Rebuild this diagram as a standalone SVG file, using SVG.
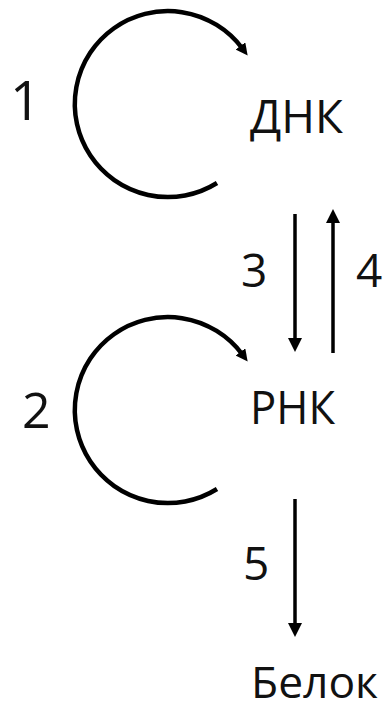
<svg xmlns="http://www.w3.org/2000/svg" width="388" height="711" viewBox="0 0 388 711">
<style>
.lbl{font-family:"Open Sans","Liberation Sans",sans-serif;fill:#111;}
.arc{fill:none;stroke:#000;stroke-width:4.5;}
.ln{fill:none;stroke:#000;stroke-width:3.5;}
</style>
<defs>
<marker id="ah" markerUnits="userSpaceOnUse" viewBox="0 0 14 14" refX="3" refY="7" markerWidth="14" markerHeight="14" orient="auto">
<path d="M0,0 L14,7 L0,14 Z" fill="#000"/>
</marker>
<marker id="ahs" markerUnits="userSpaceOnUse" viewBox="0 0 14 14" refX="3" refY="7" markerWidth="12" markerHeight="12" orient="auto">
<path d="M0,0 L14,7 L0,14 Z" fill="#000"/>
</marker>
</defs>
<rect width="388" height="711" fill="#fff"/>
<g id="connectors">
<path class="arc" d="M217,183 A93,93 0 1 1 242,48" marker-end="url(#ahs)"/>
<path class="arc" d="M217,489 A93,93 0 1 1 242,354" marker-end="url(#ahs)"/>
<line class="ln" x1="295" y1="214" x2="295" y2="341" marker-end="url(#ah)"/>
<line class="ln" x1="333" y1="353" x2="333" y2="220" marker-end="url(#ah)"/>
<line class="ln" x1="295" y1="499" x2="295" y2="626" marker-end="url(#ah)"/>
</g>
<g id="dna"><text class="lbl" x="250" y="133" font-size="46" textLength="93" lengthAdjust="spacingAndGlyphs">ДНК</text></g>
<g id="rna"><text class="lbl" x="250" y="424" font-size="46" textLength="85" lengthAdjust="spacingAndGlyphs">РНК</text></g>
<g id="protein"><text class="lbl" x="251" y="698" font-size="44" textLength="127" lengthAdjust="spacingAndGlyphs">Белок</text></g>
<g id="labels">
<text class="lbl" x="10" y="120" font-size="54">1</text>
<text class="lbl" x="22" y="428" font-size="50">2</text>
<text class="lbl" x="241" y="287" font-size="46">3</text>
<text class="lbl" x="356" y="287" font-size="46">4</text>
<text class="lbl" x="243" y="580" font-size="46">5</text>
</g>
</svg>
